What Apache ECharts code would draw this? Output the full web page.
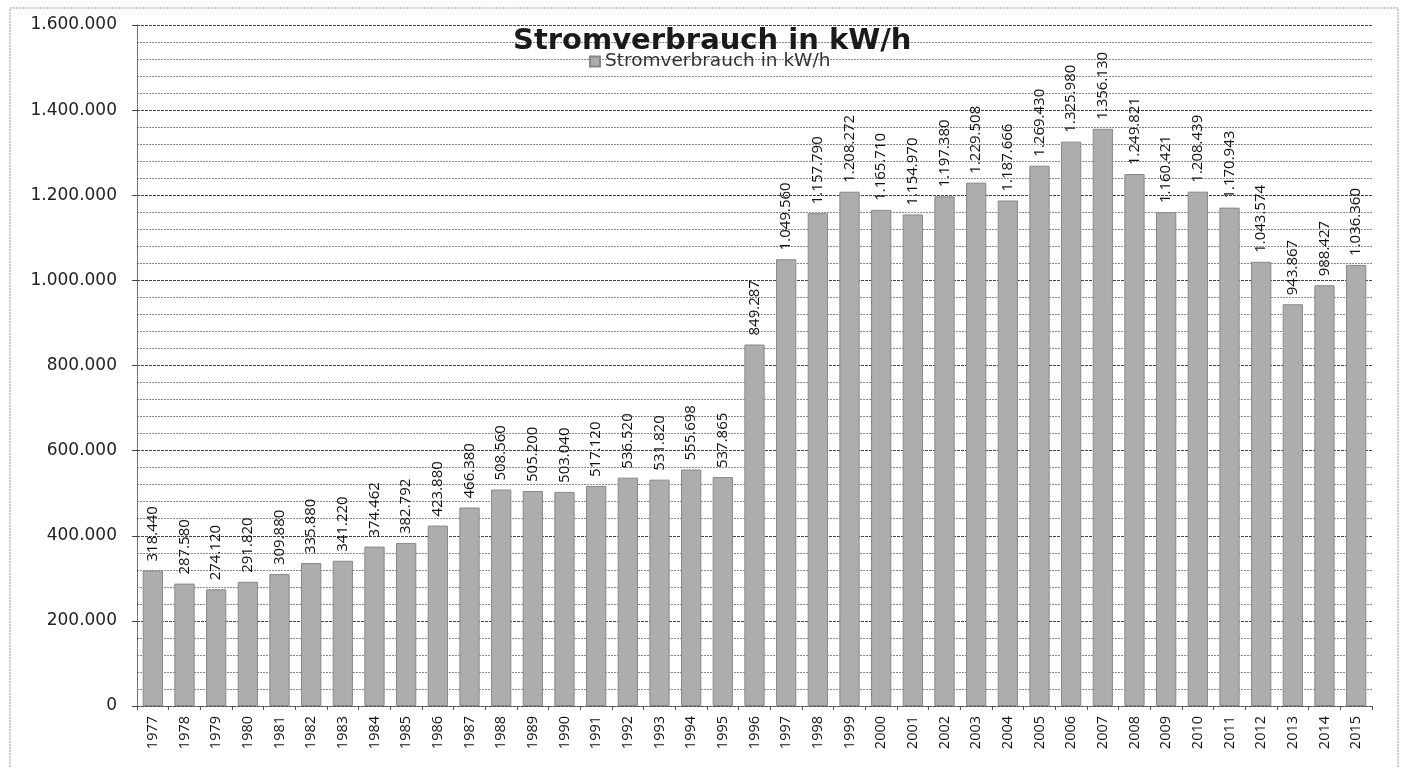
<!DOCTYPE html>
<html>
<head>
<meta charset="utf-8">
<script src="https://cdn.jsdelivr.net/npm/echarts@6/dist/echarts.min.js"></script>
<style>
  html, body { margin: 0; padding: 0; background: #fff; }
  #chart { width: 1402px; height: 768px; }
</style>
</head>
<body>
<div id="chart"></div>
<script>
const years = ["1977", "1978", "1979", "1980", "1981", "1982", "1983", "1984", "1985", "1986",
  "1987", "1988", "1989", "1990", "1991", "1992", "1993", "1994", "1995", "1996",
  "1997", "1998", "1999", "2000", "2001", "2002", "2003", "2004", "2005", "2006",
  "2007", "2008", "2009", "2010", "2011", "2012", "2013", "2014", "2015"];

const verbrauch = [318440, 287580, 274120, 291820, 309880, 335880, 341220, 374462, 382792, 423880,
  466380, 508560, 505200, 503040, 517120, 536520, 531820, 555698, 537865, 849287,
  1049560, 1157790, 1208272, 1165710, 1154970, 1197380, 1229508, 1187666, 1269430, 1325980,
  1356130, 1249821, 1160421, 1208439, 1170943, 1043574, 943867, 988427, 1036360];

const yMin = 0;
const yMax = 1600000;
const yStep = 200000;

// german thousands separator
const fmt = (v) => String(v).replace(/\B(?=(\d{3})+(?!\d))/g, ".");

const chart = echarts.init(document.getElementById("chart"));
chart.setOption({
  animation: false,
  title: {
    text: "Stromverbrauch in kW/h",
    left: 508,
    top: 22,
    textStyle: { fontFamily: "DejaVu Sans", fontWeight: "bold", fontSize: 29, color: "#1a1a1a" },
  },
  legend: {
    data: ["Stromverbrauch in kW/h"],
    left: 584,
    top: 47,
    itemWidth: 10,
    itemHeight: 10,
    itemGap: 6,
    icon: "rect",
    textStyle: { fontFamily: "DejaVu Sans", fontSize: 18.5, color: "#333" },
  },
  graphic: [{
    type: "rect",
    shape: { x: 10, y: 8, width: 1388, height: 775 },
    style: { fill: "none", stroke: "#999", lineWidth: 1, lineDash: [2, 1] },
    silent: true,
  }],
  grid: { left: 137, right: 30, top: 25, bottom: 62 },
  xAxis: {
    type: "category",
    data: years,
    axisLine: { lineStyle: { color: "#555", type: "dotted" } },
    axisTick: { show: true, length: 4, lineStyle: { color: "#555" } },
    axisLabel: { rotate: 90, margin: 10, fontFamily: "Open Sans", fontSize: 14.5, color: "#111" },
  },
  yAxis: {
    type: "value",
    min: yMin,
    max: yMax,
    interval: yStep,
    axisLine: { show: true, lineStyle: { color: "#555", type: "dotted" } },
    axisTick: { show: true, length: 5, lineStyle: { color: "#444" } },
    axisLabel: { margin: 20, fontFamily: "DejaVu Sans", fontSize: 17, color: "#222", formatter: fmt },
    splitLine: { lineStyle: { color: "#444", type: [3, 1], width: 1 } },
    minorTick: { show: false, splitNumber: 5 },
    minorSplitLine: { show: true, lineStyle: { color: "#888", type: [2, 1], width: 1 } },
  },
  series: [{
    name: "Stromverbrauch in kW/h",
    type: "bar",
    data: verbrauch,
    barWidth: "64%",
    itemStyle: { color: "#adadad", borderColor: "#888", borderWidth: 1 },
    label: {
      show: true,
      position: "top",
      rotate: 90,
      align: "left",
      verticalAlign: "middle",
      distance: 9,
      fontFamily: "Open Sans",
      fontSize: 15,
      color: "#111",
      formatter: (p) => fmt(p.value),
    },
  }],
});
</script>
</body>
</html>
